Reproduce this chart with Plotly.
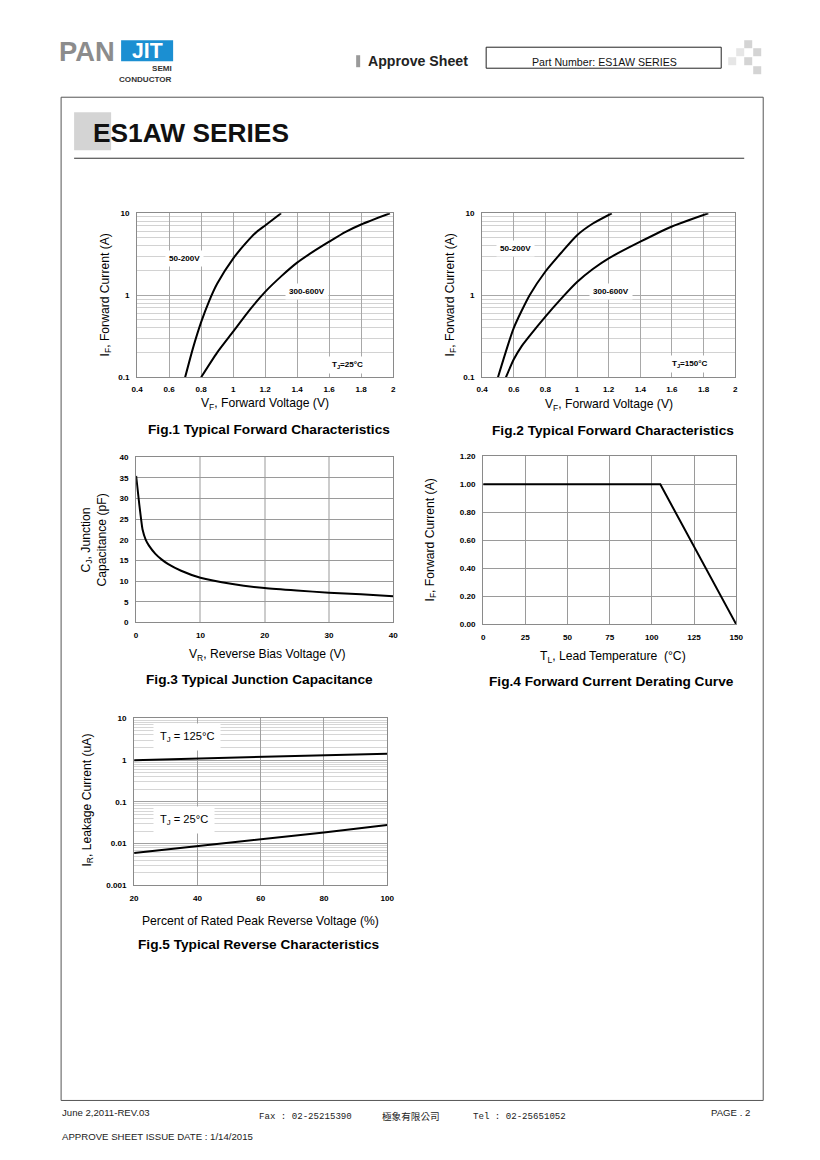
import plotly.graph_objects as go

W, H = 820, 1160
# the capture maps figure pixels p to image pixels a + b*p; pre-compensate so marks land where wanted
AX, BX = 12.9, 0.984
AY, BY = 11.8, 0.992
FS = 1.0 / 0.988
def px(x): return ((x - AX) / BX) / W
def py(y): return 1 - ((y - AY) / BY) / H
def fs(s): return round(s * FS, 2)

# ---------------- data ----------------
# Fig.1  Tj = 25 C
f1_v_low = [0.70, 0.75, 0.80, 0.85, 0.90, 1.00, 1.10, 1.15, 1.20, 1.30]
f1_i_low = [0.10, 0.23, 0.47, 0.85, 1.38, 2.80, 4.80, 6.00, 7.10, 10.0]
f1_v_high = [0.80, 0.90, 1.00, 1.10, 1.20, 1.30, 1.40, 1.50, 1.60, 1.70, 1.80, 1.98]
f1_i_high = [0.10, 0.20, 0.36, 0.65, 1.10, 1.70, 2.50, 3.40, 4.50, 5.90, 7.30, 10.0]
# Fig.2  Tj = 150 C
f2_v_low = [0.50, 0.60, 0.70, 0.80, 0.90, 1.00, 1.10, 1.22]
f2_i_low = [0.10, 0.40, 1.00, 1.95, 3.30, 5.40, 7.50, 10.0]
f2_v_high = [0.55, 0.60, 0.65, 0.70, 0.80, 0.90, 1.00, 1.10, 1.20, 1.40, 1.60, 1.83]
f2_i_high = [0.10, 0.166, 0.24, 0.32, 0.55, 0.91, 1.45, 2.09, 2.82, 4.50, 6.90, 10.0]
# Fig.3  junction capacitance
f3_vr = [0, 0.5, 1, 1.5, 2, 3, 4, 5, 7, 10, 15, 20, 25, 30, 35, 40]
f3_cj = [35.5, 28.5, 22.5, 20.0, 18.6, 16.6, 15.2, 14.1, 12.5, 10.8, 9.3, 8.3, 7.7, 7.2, 6.8, 6.3]
# Fig.4  derating
f4_tl = [0, 105, 150]
f4_if = [1.00, 1.00, 0.00]
# Fig.5  reverse characteristics
f5_pct = [20, 40, 60, 80, 100]
f5_ir_125 = [1.00, 1.09, 1.19, 1.30, 1.42]
f5_ir_25 = [0.0060, 0.0087, 0.0127, 0.0185, 0.0280]

# tick labels
vf_ticks = [0.4, 0.6, 0.8, 1.0, 1.2, 1.4, 1.6, 1.8, 2.0]
vf_text = ['0.4', '0.6', '0.8', '1', '1.2', '1.4', '1.6', '1.8', '2']
if_ticks = [0.1, 1, 10]
if_text = ['0.1', '1', '10']
ir_ticks = [0.001, 0.01, 0.1, 1, 10]
ir_text = ['0.001', '0.01', '0.1', '1', '10']

def minor_log(decades):
    out = []
    for d in decades:
        for k in range(2, 10):
            out.append(round(k * 10 ** d, 6))
    return out

FONT = 'Liberation Sans'
fig = go.Figure()

line = dict(color='black', width=2)
spl = dict(color='black', width=2, shape='spline', smoothing=0.6)
fig.add_trace(go.Scatter(x=f1_v_low, y=f1_i_low, mode='lines', line=spl, xaxis='x', yaxis='y'))
fig.add_trace(go.Scatter(x=f1_v_high, y=f1_i_high, mode='lines', line=spl, xaxis='x', yaxis='y'))
fig.add_trace(go.Scatter(x=f2_v_low, y=f2_i_low, mode='lines', line=spl, xaxis='x2', yaxis='y2'))
fig.add_trace(go.Scatter(x=f2_v_high, y=f2_i_high, mode='lines', line=spl, xaxis='x2', yaxis='y2'))
fig.add_trace(go.Scatter(x=f3_vr, y=f3_cj, mode='lines', line=dict(color='black', width=2, shape='spline', smoothing=0.4), xaxis='x3', yaxis='y3'))
fig.add_trace(go.Scatter(x=f4_tl, y=f4_if, mode='lines', line=line, xaxis='x4', yaxis='y4'))
fig.add_trace(go.Scatter(x=f5_pct, y=f5_ir_125, mode='lines', line=line, xaxis='x5', yaxis='y5'))
fig.add_trace(go.Scatter(x=f5_pct, y=f5_ir_25, mode='lines', line=line, xaxis='x5', yaxis='y5'))

tickf = dict(family=FONT, size=fs(8), color='black', weight='bold')
common = dict(showline=True, mirror=True, linecolor='#8a8a8a', linewidth=1, zeroline=False,
              ticks='outside', tickcolor='rgba(0,0,0,0)', fixedrange=True)

def dom(x0, x1, y0, y1):
    return [px(x0), px(x1)], [py(y1), py(y0)]

d1x, d1y = dom(136, 392, 213, 377)
d2x, d2y = dom(481, 734, 213, 377)
d3x, d3y = dom(135, 392, 457, 622)
d4x, d4y = dom(482, 735, 456, 624)
d5x, d5y = dom(133, 386, 718, 885)

fig.update_layout(
    xaxis=dict(common, domain=d1x, anchor='y', range=[0.4, 2.0], tickvals=vf_ticks, ticktext=vf_text,
               showgrid=True, gridcolor='#a8a8a8', tickfont=tickf, ticklen=4),
    yaxis=dict(common, domain=d1y, anchor='x', type='log', range=[-1, 1], tickvals=if_ticks, ticktext=if_text,
               showgrid=True, gridcolor='#a8a8a8', tickfont=tickf, ticklen=5,
               minor=dict(tickvals=minor_log([-1, 0]), showgrid=True, gridcolor='#d2d2d2', ticks='')),
    xaxis2=dict(common, domain=d2x, anchor='y2', range=[0.4, 2.0], tickvals=vf_ticks, ticktext=vf_text,
                showgrid=True, gridcolor='#a8a8a8', tickfont=tickf, ticklen=4),
    yaxis2=dict(common, domain=d2y, anchor='x2', type='log', range=[-1, 1], tickvals=if_ticks, ticktext=if_text,
                showgrid=True, gridcolor='#a8a8a8', tickfont=tickf, ticklen=5,
                minor=dict(tickvals=minor_log([-1, 0]), showgrid=True, gridcolor='#d2d2d2', ticks='')),
    xaxis3=dict(common, domain=d3x, anchor='y3', range=[0, 40], dtick=10, showgrid=True,
                gridcolor='#cccccc', gridwidth=1.5, tickfont=tickf, ticklen=5),
    yaxis3=dict(common, domain=d3y, anchor='x3', range=[0, 40], dtick=5, showgrid=True,
                gridcolor='#9a9a9a', tickfont=tickf, ticklen=5),
    xaxis4=dict(common, domain=d4x, anchor='y4', range=[0, 150], dtick=25, showgrid=True,
                gridcolor='#9a9a9a', tickfont=tickf, ticklen=5),
    yaxis4=dict(common, domain=d4y, anchor='x4', range=[0, 1.2], dtick=0.2, tickformat='.2f', showgrid=True,
                gridcolor='#9a9a9a', tickfont=tickf, ticklen=5),
    xaxis5=dict(common, domain=d5x, anchor='y5', range=[20, 100], dtick=20, showgrid=True,
                gridcolor='#a0a0a0', tickfont=tickf, ticklen=5),
    yaxis5=dict(common, domain=d5y, anchor='x5', type='log', range=[-3, 1], tickvals=ir_ticks, ticktext=ir_text,
                showgrid=True, gridcolor='#a0a0a0', tickfont=tickf, ticklen=5,
                minor=dict(tickvals=minor_log([-3, -2, -1, 0]), showgrid=True, gridcolor='#d6d6d6', ticks='')),
)

anns = []
def T(text, x, y, size, color='black', weight='normal', xanchor='center', family=FONT, angle=0,
      bg=None, pad=0, yanchor='middle'):
    d = dict(text=text, x=px(x), y=py(y), xref='paper', yref='paper', showarrow=False,
             xanchor=xanchor, yanchor=yanchor, textangle=angle,
             font=dict(family=family, size=fs(size), color=color, weight=weight))
    if bg:
        d['bgcolor'] = bg
        d['borderpad'] = pad
    anns.append(d)

# header
T('PAN', 56, 51, 27, color='#8c8c8c', weight='bold', xanchor='left')
T('JIT', 146, 51, 21, color='white', weight='bold')
T('SEMI', 173, 68, 8, color='#333333', weight='bold', xanchor='right')
T('CONDUCTOR', 173, 79, 8, color='#333333', weight='bold', xanchor='right')
T('Approve Sheet', 365, 61, 14, color='#222222', weight='bold', xanchor='left')
T('Part Number: ES1AW SERIES', 603, 62, 10.5, color='#111111')
T('ES1AW SERIES', 90, 133, 26, color='#111111', weight='bold', xanchor='left')

# fig 1
T('I<sub>F</sub>, Forward Current (A)', 105, 295, 12, angle=-90)
T('V<sub>F</sub>, Forward Voltage (V)', 264, 404, 12)
T('Fig.1 Typical Forward Characteristics', 268, 429, 13.5, weight='bold')
T('50-200V', 183, 258, 8, weight='bold', bg='white', pad=3)
T('300-600V', 306, 291, 8, weight='bold', bg='white', pad=3)
T('T<sub>J</sub>=25°C', 346, 365, 8, weight='bold', bg='white', pad=3)
# fig 2
T('I<sub>F</sub>, Forward Current (A)', 450, 295, 12, angle=-90)
T('V<sub>F</sub>, Forward Voltage (V)', 608, 405, 12)
T('Fig.2 Typical Forward Characteristics', 612, 430, 13.5, weight='bold')
T('50-200V', 514, 248, 8, weight='bold', bg='white', pad=3)
T('300-600V', 610, 291, 8, weight='bold', bg='white', pad=3)
T('T<sub>J</sub>=150°C', 689, 364, 8, weight='bold', bg='white', pad=3)
# fig 3
T('C<sub>J</sub>, Junction', 86, 540, 12, angle=-90)
T('Capacitance (pF)', 101, 540, 12, angle=-90)
T('V<sub>R</sub>, Reverse Bias Voltage (V)', 266, 655, 12)
T('Fig.3 Typical Junction Capacitance', 258, 679, 13.5, weight='bold')
# fig 4
T('I<sub>F</sub>, Forward Current (A)', 430, 540, 12, angle=-90)
T('T<sub>L</sub>, Lead Temperature  (°C)', 612, 657, 12)
T('Fig.4 Forward Current Derating Curve', 610, 681, 13.5, weight='bold')
# fig 5
T('I<sub>R</sub>, Leakage Current (uA)', 87, 800, 12, angle=-90)
T('Percent of Rated Peak Reverse Voltage (%)', 259, 921, 12)
T('Fig.5 Typical Reverse Characteristics', 258, 944, 13.5, weight='bold')
T('T<sub>J</sub> = 125°C', 186, 737, 11, bg='white', pad=6)
T('T<sub>J</sub> = 25°C', 183, 820, 11, bg='white', pad=6)

# footer
T('June 2,2011-REV.03', 59, 1112, 9.5, color='#222222', xanchor='left')
T('PAGE . 2', 751, 1112, 9.5, color='#222222', xanchor='right')
T('Fax : 02-25215390', 256, 1116, 9, color='#222222', xanchor='left', family='Liberation Mono')
T('極象有限公司', 379, 1116, 9.5, color='#222222', xanchor='left', family='Noto Sans CJK TC')
T('Tel : 02-25651052', 470, 1116, 9, color='#222222', xanchor='left', family='Liberation Mono')
T('APPROVE SHEET ISSUE DATE : 1/14/2015', 59, 1136, 9.5, color='#222222', xanchor='left')

shapes = []
def R(x0, y0, x1, y1, fill=None, lc=None, lw=1, layer='below'):
    shapes.append(dict(type='rect', xref='paper', yref='paper', x0=px(x0), x1=px(x1), y0=py(y1), y1=py(y0),
                       fillcolor=fill if fill else 'rgba(0,0,0,0)',
                       line=dict(color=lc if lc else 'rgba(0,0,0,0)', width=lw if lc else 0), layer=layer))
def L(x0, y0, x1, y1, c='#333333', w=1):
    shapes.append(dict(type='line', xref='paper', yref='paper', x0=px(x0), x1=px(x1), y0=py(y0), y1=py(y1),
                       line=dict(color=c, width=w)))

# logo box
R(120, 40, 172, 61, fill='#1b8fd2')
# approve sheet marker and part-number box
R(355, 55, 359, 67, fill='#9a9a9a')
R(485, 47, 720, 68, lc='#222222', lw=1)
# checker decoration
for (a, b, c) in [(743, 40, '#d4d4d4'), (735, 48, '#e6e6e6'), (752, 48, '#d4d4d4'),
                  (727, 57, '#e6e6e6'), (743, 57, '#d4d4d4'), (752, 66, '#d4d4d4')]:
    R(a, b, a + 8, b + 8, fill=c)
# page frame
R(60, 97, 762, 1100, lc='#555555', lw=1)
# title block
R(73, 112, 110, 150, fill='#d4d4d4')
L(73, 158, 743, 158, c='#333333', w=1)

fig.update_layout(width=W, height=H, margin=dict(l=0, r=0, t=0, b=0), showlegend=False,
                  paper_bgcolor='white', plot_bgcolor='white', annotations=anns, shapes=shapes)

fig.write_html('out.html')
